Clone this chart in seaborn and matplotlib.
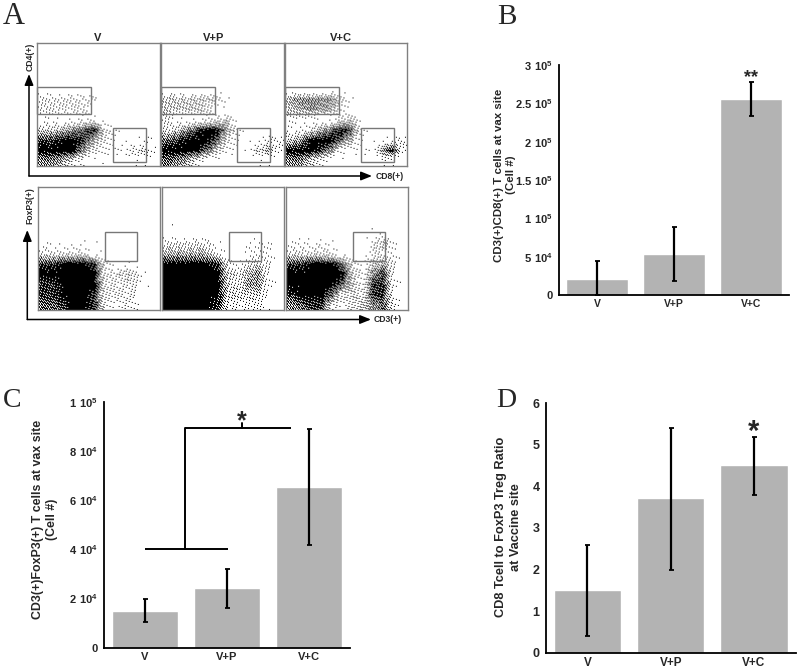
import numpy as np
import matplotlib
matplotlib.use("Agg")
import matplotlib.pyplot as plt
from matplotlib.patches import Rectangle
import seaborn as sns

# ---------- data ----------
groups = ["V", "V+P", "V+C"]

b_vals = [2.1e4, 5.35e4, 2.56e5]
b_low = [0, 1.83e4, 2.33e5]
b_high = [4.4e4, 8.9e4, 2.78e5]
b_ticks = [0, 5e4, 1e5, 1.5e5, 2e5, 2.5e5, 3e5]
b_ticklabels = ["0", "5 10^4", "1 10^5", "1.5 10^5", "2 10^5", "2.5 10^5", "3 10^5"]

c_vals = [1.5e4, 2.43e4, 6.53e4]
c_low = [1.05e4, 1.63e4, 4.17e4]
c_high = [1.97e4, 3.2e4, 8.9e4]
c_ticks = [0, 2e4, 4e4, 6e4, 8e4, 1e5]
c_ticklabels = ["0", "2 10^4", "4 10^4", "6 10^4", "8 10^4", "1 10^5"]

d_vals = [1.5, 3.72, 4.52]
d_low = [0.4, 2.0, 3.8]
d_high = [2.6, 5.4, 5.2]
d_ticks = [0, 1, 2, 3, 4, 5, 6]

# Estimated darkness of the flow-cytometry dot clouds, 0 (blank) to 9 (solid), 12 x 12 cells
top_v = ["000000000000", "000000000000", "000000000000", "000000000000",
         "000000000000", "333333000000", "333331000000", "111122100000",
         "445679420000", "889985321121", "999963222341", "665320100110"]
top_p = ["000000000000", "000000000000", "000000000000", "000000000000",
         "000000000000", "444444100000", "444431000000", "311123410000",
         "346899520000", "789997311133", "999974211452", "765210000110"]
top_c = ["000000000000", "000000000000", "000000000000", "000000000000",
         "000000000000", "566664100000", "456552100000", "211113410000",
         "223579720000", "469997411123", "999862221692", "664210000110"]
bot_v = ["000000000000", "000000000000", "000000000000", "000000000000",
         "000000000000", "111111000000", "333331100000", "889998311000",
         "999999334410", "889999333310", "889998333200", "778998323200"]
bot_p = ["000000000000", "000000000000", "000000000000", "000000000000",
         "010000000000", "333331002220", "555543102220", "999998323430",
         "999999435620", "999999436620", "999999444420", "999998333310"]
bot_c = ["000000000000", "000000000000", "000000000000", "000000000000",
         "000000001100", "222220003420", "333321003320", "889997324530",
         "999999426820", "999997428820", "899973438820", "678832346730"]

# ---------- style ----------
sns.set_theme(style="white")
plt.rcParams["font.family"] = ["Liberation Sans", "DejaVu Sans"]
plt.rcParams["font.weight"] = "bold"
plt.rcParams["mathtext.fontset"] = "custom"
plt.rcParams["mathtext.bf"] = "Liberation Sans:bold"
plt.rcParams["mathtext.rm"] = "Liberation Sans:bold"

W, H = 800, 669
fig = plt.figure(figsize=(W / 100, H / 100), dpi=100, facecolor="white")


def axes_px(x0, y0, x1, y1):
    return fig.add_axes([x0 / W, 1 - y1 / H, (x1 - x0) / W, (y1 - y0) / H])


overlay = axes_px(0, 0, W, H)
overlay.set_xlim(0, W)
overlay.set_ylim(H, 0)
overlay.axis("off")
overlay.set_zorder(5)

BAR = "#b3b3b3"
GATE = "#777777"


def sup(label):
    if "^" not in label:
        return label
    base, exp = label.split("^")
    base = base.replace(" ", r"\ ")
    return rf"$\mathbf{{{base}^{{{exp}}}}}$"


def bar_panel(box, vals, low, high, ticks, ticklabels, ymax, ysize=8, xsize=8):
    ax = axes_px(*box)
    sns.barplot(x=groups, y=vals, color=BAR, saturation=1, width=0.81,
                errorbar=None, ax=ax)
    xs = np.arange(len(vals))
    v = np.array(vals, float)
    ax.errorbar(xs, v, yerr=[v - np.array(low), np.array(high) - v], fmt="none",
                ecolor="black", elinewidth=1.6, capsize=1.8, capthick=1.3, zorder=4)
    ax.set_xlim(-0.5, 2.5)
    ax.set_ylim(0, ymax)
    ax.set_yticks(ticks)
    ax.set_yticklabels([sup(t) for t in ticklabels], fontsize=ysize, fontweight="bold")
    ax.set_xticks(xs)
    ax.set_xticklabels(groups, fontsize=xsize, fontweight="bold")
    ax.set_xticks([0.5, 1.5], minor=True)
    ax.tick_params(axis="x", which="major", length=0, pad=3)
    ax.tick_params(axis="x", which="minor", length=1.5, width=1, direction="in", color="black")
    ax.tick_params(axis="y", length=0, pad=4.5)
    ax.set_xlabel("")
    ax.set_ylabel("")
    for s in ("top", "right"):
        ax.spines[s].set_visible(False)
    for s in ("left", "bottom"):
        ax.spines[s].set_linewidth(1.3)
        ax.spines[s].set_color("black")
    ax.set_facecolor("none")
    return ax


# ---------- panel B ----------
axb = bar_panel((559, 65, 789, 295), b_vals, b_low, b_high, b_ticks, b_ticklabels, 3e5, xsize=7.5)
axb.text(2, 2.835e5, "**", ha="center", va="center", fontsize=13, fontweight="bold")

# ---------- panel C ----------
axc = bar_panel((104, 402, 350, 647.7), c_vals, c_low, c_high, c_ticks, c_ticklabels, 1e5)
bracket_left = [0.0, 1.012]
bracket_y_low = 4.0e4
bracket_x = 0.488
bracket_y_high = 8.96e4
bracket_right = 1.777
star_x = 1.183
axc.plot(bracket_left, [bracket_y_low] * 2, color="black", lw=1.4, solid_capstyle="butt")
axc.plot([bracket_x] * 2, [bracket_y_low, bracket_y_high], color="black", lw=1.4)
axc.plot([bracket_x, bracket_right], [bracket_y_high] * 2, color="black", lw=1.4, solid_capstyle="butt")
axc.plot([star_x] * 2, [bracket_y_high, 9.15e4], color="black", lw=1.4)
axc.text(star_x, 9.2e4, "*", ha="center", va="center", fontsize=18, fontweight="bold")

# ---------- panel D ----------
axd = bar_panel((545.7, 403.3, 795.7, 652.7), d_vals, d_low, d_high, d_ticks,
                [str(t) for t in d_ticks], 6, ysize=9, xsize=8.5)
axd.text(2, 5.3, "*", ha="center", va="center", fontsize=21, fontweight="bold")

# ---------- y labels ----------
overlay.text(505, 175, "CD3(+)CD8(+) T cells at vax site\n(Cell #)", rotation=90, ha="center",
             va="center", fontsize=8.25, fontweight="bold", linespacing=1.3)
overlay.text(45, 519, "CD3(+)FoxP3(+) T cells at vax site\n(Cell #)", rotation=90, ha="center",
             va="center", fontsize=8.9, fontweight="bold", linespacing=1.3)
overlay.text(508.5, 527, "CD8 Tcell to FoxP3 Treg Ratio\nat Vaccine site", rotation=90, ha="center",
             va="center", fontsize=9.2, fontweight="bold", linespacing=1.35)

# ---------- panel letters ----------
for letter, x, y, size in [("A", 13.5, 17, 22), ("B", 506.5, 17, 21), ("C", 12, 400.5, 20), ("D", 506, 400.5, 20)]:
    overlay.text(x, y, letter, family="Liberation Serif", fontweight="normal", fontsize=size,
                 ha="center", va="center")


# ---------- flow panels ----------
def stipple(grid, n=122):
    """Halftone the estimated darkness cells into dots with a fixed (non-random) screen."""
    arr = np.array([[int(c) for c in row] for row in grid], float) / 9.0
    cells = (np.arange(arr.shape[0]) + 0.5) / arr.shape[0]
    pos = (np.arange(n) + 0.5) / n
    across = np.array([np.interp(pos, cells, row) for row in arr])
    full = np.array([np.interp(pos, cells, col) for col in across.T]).T
    yy, xx = np.mgrid[0:n, 0:n]
    screen = (52.9829189 * ((0.06711056 * xx + 0.00583715 * yy) % 1.0)) % 1.0
    return (full ** 2.0 > screen).astype(float)


def flow_panel(box, grid, gates):
    ax = axes_px(*box)
    ax.imshow(stipple(grid), cmap="gray_r", vmin=0, vmax=1, interpolation="bilinear", aspect="auto",
              extent=(0, 1, 0, 1))
    ax.set_xticks([])
    ax.set_yticks([])
    for s in ax.spines.values():
        s.set_color("#808080")
        s.set_linewidth(1.0)
    for (x0, y0, x1, y1) in gates:
        ax.add_patch(Rectangle((x0, y0), x1 - x0, y1 - y0, fill=False, ec=GATE, lw=1.0,
                               clip_on=False))
    return ax


top_gates = [(0.0, 0.419, 0.441, 0.643), (0.621, 0.033, 0.891, 0.305)]
bot_gates = [(0.548, 0.400, 0.807, 0.637)]
for box, grid in [((37.3, 43.3, 159.7, 165.7), top_v), ((161.3, 43.3, 283.7, 165.7), top_p),
                  ((285.3, 43.3, 407.3, 165.7), top_c)]:
    flow_panel(box, grid, top_gates)
for box, grid in [((38.3, 187.3, 160.3, 309.7), bot_v), ((162.3, 187.3, 284.3, 309.7), bot_p),
                  ((286, 187.3, 408.3, 309.7), bot_c)]:
    flow_panel(box, grid, bot_gates)

for name, x in zip(groups, [98, 214, 341]):
    overlay.text(x, 38, name, ha="center", va="center", fontsize=8, fontweight="bold")

for (x0, y0, x1, y1) in [(29, 176, 29, 74), (29, 176, 372, 176), (27.3, 319.5, 27.3, 230), (27.3, 319.5, 371, 319.5)]:
    overlay.annotate("", xy=(x1, y1), xytext=(x0, y0),
                     arrowprops=dict(arrowstyle="-|>,head_length=0.55,head_width=0.22", color="black",
                                     lw=1.1, shrinkA=0, shrinkB=0))

overlay.text(30, 57, "CD4(+)", rotation=90, ha="center", va="center", fontsize=6.2, fontweight="bold")
overlay.text(30, 206, "FoxP3(+)", rotation=90, ha="center", va="center", fontsize=6.2, fontweight="bold")
overlay.text(390, 176.5, "CD8(+)", ha="center", va="center", fontsize=6.2, fontweight="bold")
overlay.text(388, 320, "CD3(+)", ha="center", va="center", fontsize=6.2, fontweight="bold")

fig.savefig("out.png", dpi=100, facecolor="white")
